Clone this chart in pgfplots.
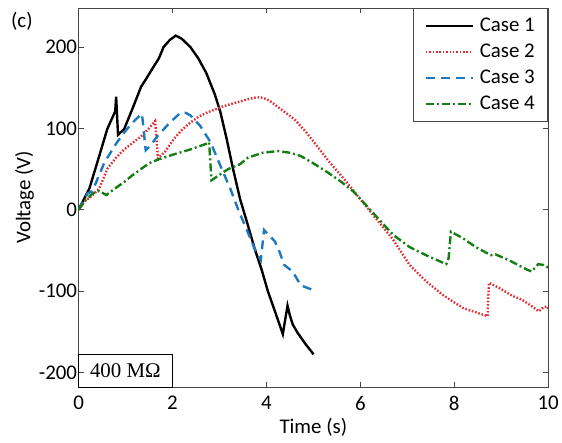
\documentclass[border=0pt]{standalone}
\usepackage{pgfplots}
\pgfplotsset{compat=1.18}
\usepackage{fontspec}
\setmainfont{Carlito}
\newfontfamily\serifont{Liberation Serif}
\definecolor{mred}{RGB}{225,45,50}
\definecolor{mblue}{RGB}{30,120,190}
\definecolor{mgreen}{RGB}{20,125,20}
\definecolor{axgray}{RGB}{70,70,70}
\begin{document}
\begin{tikzpicture}
\begin{axis}[
  name=ax,
  scale only axis,
  width=472pt, height=381pt,
  xmin=0, xmax=10, ymin=-218, ymax=248,
  xtick={0,2,4,6,8,10},
  ytick={-200,-100,0,100,200},
  tick align=inside,
  major tick length=5pt,
  axis line style={axgray, line width=0.8pt},
  every tick/.style={axgray, line width=0.8pt},
  /pgf/number format/assume math mode=true,
  tick label style={font=\fontsize{21}{25}\selectfont},
  xticklabel style={yshift=-6pt},
  yticklabel style={xshift=2pt},
  label style={font=\fontsize{21}{25}\selectfont},
  xlabel={Time (s)},
  ylabel={Voltage (V)},
  xlabel style={yshift=-1pt},
  ylabel style={yshift=-2pt},
  legend style={at={(1,1)}, anchor=north east, draw=axgray, line width=0.8pt,
    font=\fontsize{21}{25}\selectfont, inner xsep=11pt, inner ysep=8pt, row sep=7pt,
    nodes={inner sep=2pt}},
  legend cell align=left,
  legend image code/.code={\draw[#1] (0pt,0pt) -- (47pt,0pt); \path (51pt,0pt);},
]
\addplot[black, line width=2.4pt] coordinates {
(0,0) (0.23,26) (0.44,66) (0.61,99) (0.78,121) (0.80,139) (0.84,92) (0.97,99)
(1.14,123) (1.33,151) (1.43,160) (1.6,176) (1.71,186) (1.81,200) (1.95,209) (2.07,214)
(2.2,210) (2.38,200) (2.55,186) (2.72,168) (2.9,142) (3.02,120) (3.15,88) (3.29,50)
(3.44,13) (3.6,-18) (3.75,-48) (3.9,-74) (4.03,-100) (4.2,-128) (4.35,-153)
(4.45,-118) (4.5,-130) (4.56,-141) (4.66,-151) (4.83,-165) (4.98,-176) (5.0,-178)
};
\addlegendentry{Case 1}
\addplot[mred, line width=2.4pt, dash pattern=on 1.6pt off 1.8pt] coordinates {
(0,0) (0.13,10) (0.3,18) (0.44,26) (0.61,50) (0.8,64) (0.97,74) (1.15,82)
(1.33,90) (1.5,100) (1.63,109) (1.69,63) (1.85,72) (2.03,87) (2.2,98) (2.38,107)
(2.55,114) (2.72,119) (2.9,123) (3.08,127) (3.25,130) (3.44,133) (3.62,136)
(3.78,138) (3.88,138) (4.0,136) (4.09,133) (4.3,124) (4.6,111) (4.85,95)
(5.08,78) (5.35,58) (5.65,38) (5.9,20) (6.14,3) (6.35,-12) (6.56,-27) (6.7,-37)
(7.05,-68) (7.4,-88) (7.76,-105) (8.19,-121) (8.5,-127) (8.71,-131) (8.74,-90)
(8.95,-96) (9.24,-106) (9.45,-111) (9.66,-119) (9.8,-125) (9.9,-120) (9.98,-119) (10,-122)
};
\addlegendentry{Case 2}
\addplot[mblue, line width=2.4pt, dash pattern=on 9pt off 6pt] coordinates {
(0,0) (0.1,10) (0.19,20) (0.27,22) (0.34,29) (0.55,58) (0.82,83) (1.03,99)
(1.2,110) (1.35,118) (1.43,73) (1.55,80) (1.67,90) (1.96,108) (2.17,119)
(2.28,119) (2.38,116) (2.59,103) (2.81,83) (3.02,54) (3.23,26) (3.4,0)
(3.54,-19) (3.75,-48) (3.88,-62) (3.95,-25) (4.18,-39) (4.28,-52) (4.38,-68)
(4.56,-76) (4.73,-93) (5.0,-99)
};
\addlegendentry{Case 3}
\addplot[mgreen, line width=2.4pt, dash pattern=on 8pt off 3pt on 2pt off 3pt] coordinates {
(0,0) (0.15,12) (0.3,20) (0.44,23) (0.59,18) (0.8,27) (0.97,34) (1.14,42)
(1.33,50) (1.5,57) (1.71,62) (2.03,68) (2.38,74) (2.72,81) (2.78,83) (2.83,36)
(3.08,46) (3.19,50) (3.44,56) (3.61,64) (3.92,70) (4.24,72) (4.5,70) (4.73,66)
(5.0,57) (5.3,46) (5.6,34) (5.86,22) (6.1,7) (6.35,-9) (6.7,-31) (7.05,-46)
(7.4,-56) (7.83,-67) (7.88,-60) (7.93,-27) (8.18,-35) (8.46,-46) (8.78,-56)
(8.88,-55) (9.16,-62) (9.56,-74) (9.65,-76) (9.79,-67) (9.9,-68) (10,-71)
};
\addlegendentry{Case 4}
\end{axis}
\draw[black, line width=0.8pt] (ax.south west) rectangle ([xshift=94pt,yshift=33pt]ax.south west);
\node[font=\serifont\fontsize{21}{24}\selectfont] at ([xshift=47pt,yshift=16.5pt]ax.south west) {400 MΩ};
\node[font=\fontsize{21}{25}\selectfont] at ([xshift=-57pt,yshift=-13pt]ax.north west) {(c)};
\path ([xshift=-79pt,yshift=-56pt]ax.south west) rectangle ([xshift=11pt,yshift=8pt]ax.north east);
\end{tikzpicture}
\end{document}
